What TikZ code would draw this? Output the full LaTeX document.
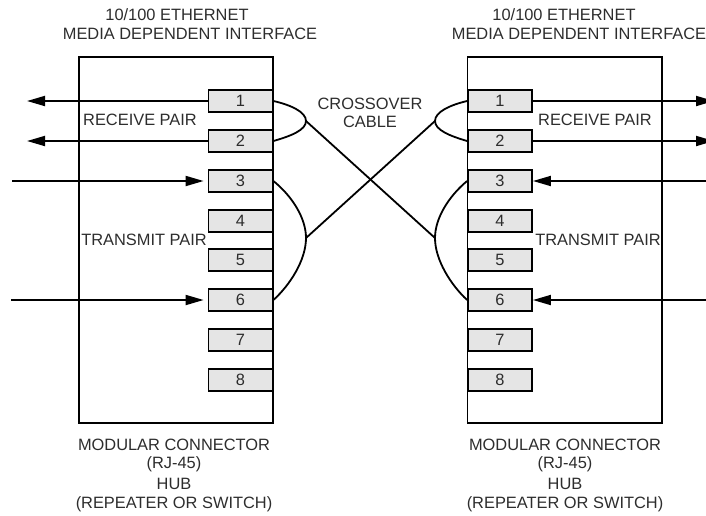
\documentclass[tikz,border=0pt]{standalone}
\usepackage{fontspec}
\setmainfont{Liberation Sans}
\usetikzlibrary{arrows.meta}
\definecolor{portgray}{RGB}{229,229,229}
\definecolor{inkgray}{RGB}{45,45,45}
\tikzset{
  wire/.style={draw=black,line width=1.35pt},
  sig/.style={wire,-{Triangle[length=13.5pt,width=7.5pt]}},
  port/.style={draw=black,line width=1.35pt,fill=portgray,minimum width=48pt,minimum height=17pt,inner sep=0pt,font=\fontsize{12.3}{14}\selectfont,text=inkgray},
  lbl/.style={inner sep=0.75pt,font=\fontsize{12.3}{14}\selectfont,text=inkgray},
  hub/.style={draw=black,line width=1.35pt}
}
\begin{document}
\begin{tikzpicture}[x=0.75pt,y=0.75pt,yscale=-1,xscale=1]
\useasboundingbox (0,0) rectangle (706,515);
\clip (0,0) rectangle (706,515);

%Hub boxes
\draw [hub] (79,57) rectangle (273,423);
\draw [hub] (467.5,57) rectangle (662,423);

%Ports left
\node [port] (l1) at (240.5,101) {1};
\node [port] (l2) at (240.5,141) {2};
\node [port] (l3) at (240.5,181) {3};
\node [port] (l4) at (240.5,221) {4};
\node [port] (l5) at (240.5,260) {5};
\node [port] (l6) at (240.5,300) {6};
\node [port] (l7) at (240.5,340) {7};
\node [port] (l8) at (240.5,380) {8};
%Ports right
\node [port] (r1) at (500,101) {1};
\node [port] (r2) at (500,141) {2};
\node [port] (r3) at (500,181) {3};
\node [port] (r4) at (500,221) {4};
\node [port] (r5) at (500,260) {5};
\node [port] (r6) at (500,300) {6};
\node [port] (r7) at (500,340) {7};
\node [port] (r8) at (500,380) {8};

%Free ends and junctions
\coordinate (lrx1) at (27,101);
\coordinate (lrx2) at (27,141);
\coordinate (ltx3) at (12,181);
\coordinate (ltx6) at (11,300);
\coordinate (rrx1) at (714,101);
\coordinate (rrx2) at (714,141);
\coordinate (rtx3) at (706,181);
\coordinate (rtx6) at (706,300);
\coordinate (ljr) at (306,121);
\coordinate (ljt) at (306,238);
\coordinate (rjr) at (435,121);
\coordinate (rjt) at (435,238);

%Signal lines
\draw [sig] (l1.west) -- (lrx1);
\draw [sig] (l2.west) -- (lrx2);
\draw [sig] (ltx3) -- ([xshift=-3pt]l3.west);
\draw [sig] (ltx6) -- ([xshift=-3pt]l6.west);
\draw [sig] (r1.east) -- (rrx1);
\draw [sig] (r2.east) -- (rrx2);
\draw [sig] (rtx3) -- (r3.east);
\draw [sig] (rtx6) -- (r6.east);

%Pair curves
\draw [wire] (l1.east) .. controls (291,105) and (306,112) .. (ljr) .. controls (306,130) and (291,136) .. (l2.east);
\draw [wire] (r1.west) .. controls (450,105) and (435,112) .. (rjr) .. controls (435,130) and (450,136) .. (r2.west);
\draw [wire] (l3.east) .. controls (292,196) and (306,218) .. (ljt) .. controls (306,260) and (290,285) .. (l6.east);
\draw [wire] (r3.west) .. controls (449,196) and (435,218) .. (rjt) .. controls (435,260) and (451,285) .. (r6.west);

%Crossover
\draw [wire] (ljr) -- (rjt);
\draw [wire] (ljt) -- (rjr);

% Text Node
\node [lbl] (ltop1) at (177,15) {10/100 ETHERNET};
\node [lbl] (ltop2) at (190,34) {MEDIA DEPENDENT INTERFACE};
\node [lbl] (rtop1) at (564,15) {10/100 ETHERNET};
\node [lbl] (rtop2) at (579,34) {MEDIA DEPENDENT INTERFACE};
\node [lbl] (cross1) at (370,104) {CROSSOVER};
\node [lbl] (cross2) at (370,122) {CABLE};
\node [lbl] (lrecv) at (140,120) {RECEIVE PAIR};
\node [lbl] (ltran) at (144,240) {TRANSMIT PAIR};
\node [lbl] (rrecv) at (595,120) {RECEIVE PAIR};
\node [lbl] (rtran) at (598,240) {TRANSMIT PAIR};
\node [lbl] (lbot1) at (174,445) {MODULAR CONNECTOR};
\node [lbl] (lbot2) at (174,464) {(RJ-45)};
\node [lbl] (lbot3) at (174,484) {HUB};
\node [lbl] (lbot4) at (174,504) {(REPEATER OR SWITCH)};
\node [lbl] (rbot1) at (565,445) {MODULAR CONNECTOR};
\node [lbl] (rbot2) at (565,464) {(RJ-45)};
\node [lbl] (rbot3) at (565,484) {HUB};
\node [lbl] (rbot4) at (565,504) {(REPEATER OR SWITCH)};

\end{tikzpicture}
\end{document}
